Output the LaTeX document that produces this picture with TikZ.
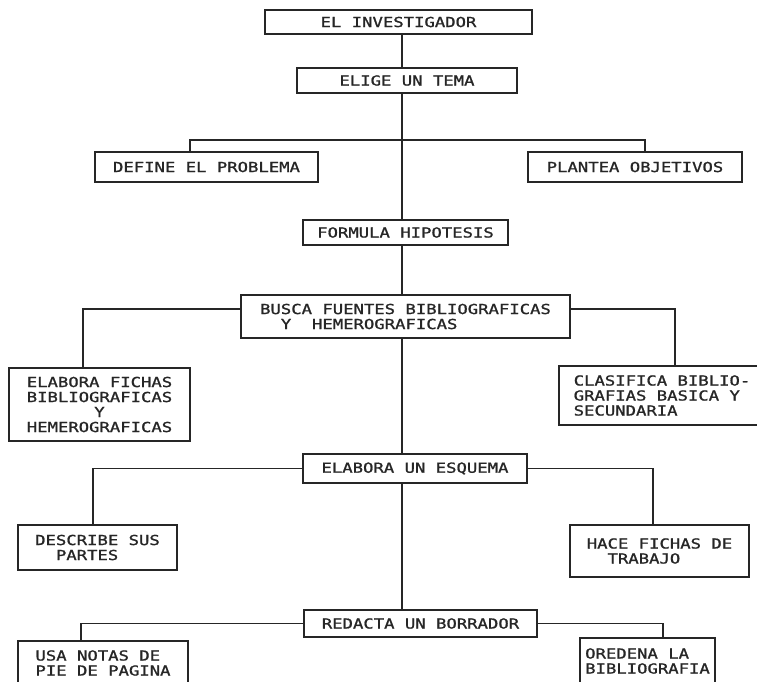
\documentclass[tikz,border=0pt]{standalone}
\usepackage{fontspec}
\setmonofont[FakeStretch=1.25,FakeBold=1.2]{DejaVu Sans Mono}
\begin{document}
\begin{tikzpicture}[x=1pt,y=-1pt,
  box/.style={draw=black!85, line width=1.4pt, inner sep=0pt, text=black!85,
    font=\ttfamily\fontsize{13.8}{15}\selectfont},
  conn/.style={draw=black!85, line width=1.4pt}]
\useasboundingbox (0,0) rectangle (757,681);
\clip (0,0) rectangle (757,681);
\fill[white] (0,0) rectangle (757,681);
% nodes
\node[box, minimum width=267pt, minimum height=24pt] (inv) at (398.5,22) {EL INVESTIGADOR};
\node[box, minimum width=220pt, minimum height=25pt] (tema) at (407,80.5) {ELIGE UN TEMA};
\node[box, minimum width=223pt, minimum height=30pt] (define) at (206.5,167) {DEFINE EL PROBLEMA};
\node[box, minimum width=214pt, minimum height=30pt] (plantea) at (635,167) {PLANTEA OBJETIVOS};
\node[box, minimum width=205pt, minimum height=25pt] (formula) at (405.5,232.5) {FORMULA HIPOTESIS};
\node[box, minimum width=329pt, minimum height=43pt, align=left] (busca) at (405.5,316.5)
  {BUSCA FUENTES BIBLIOGRAFICAS\\~~Y~~HEMEROGRAFICAS};
\node[box, minimum width=181pt, minimum height=73pt, align=center] (fichas) at (99.5,404.5)
  {ELABORA FICHAS\\BIBLIOGRAFICAS\\Y\\HEMEROGRAFICAS};
\node[box, minimum width=206pt, minimum height=59pt, align=left] (clasifica) at (662,395.5)
  {CLASIFICA BIBLIO-\\GRAFIAS BASICA Y\\SECUNDARIA};
\node[box, minimum width=224pt, minimum height=29pt] (esquema) at (415,468.5) {ELABORA UN ESQUEMA};
\node[box, minimum width=159pt, minimum height=45pt, align=left] (describe) at (97.5,547.5)
  {DESCRIBE SUS\\~~PARTES};
\node[box, minimum width=179pt, minimum height=52pt, align=left] (hace) at (659.5,551)
  {HACE FICHAS DE\\~~TRABAJO};
\node[box, minimum width=233pt, minimum height=27pt] (redacta) at (420.5,623.5) {REDACTA UN BORRADOR};
\node[box, minimum width=170pt, minimum height=44pt, align=left] (usa) at (103,663)
  {USA NOTAS DE\\PIE DE PAGINA};
\node[box, minimum width=135pt, minimum height=46pt, align=left] (oredena) at (647.5,661)
  {OREDENA LA\\BIBLIOGRAFIA};
% trunk
\coordinate (T) at (402,0);
\coordinate (j1) at (402,140);
\draw[conn] (inv.south -| T) -- (tema.north -| T);
\draw[conn] (tema.south -| T) -- (formula.north -| T);
\draw[conn] (formula.south -| T) -- (busca.north -| T);
\draw[conn] (busca.south -| T) -- (esquema.north -| T);
\draw[conn] (esquema.south -| T) -- (redacta.north -| T);
% branches
\draw[conn] ([xshift=-16.5pt]define.north) |- (j1) -| ([xshift=10pt]plantea.north);
\draw[conn] ([yshift=7.5pt]busca.west) -| ([xshift=-16.5pt]fichas.north);
\draw[conn] ([yshift=7.5pt]busca.east) -| ([xshift=13pt]clasifica.north);
\draw[conn] (esquema.west) -| ([xshift=-4.5pt]describe.north);
\draw[conn] (esquema.east) -| ([xshift=-6.5pt]hace.north);
\draw[conn] (redacta.west) -| ([xshift=-22pt]usa.north);
\draw[conn] (redacta.east) -| ([xshift=15.5pt]oredena.north);
\end{tikzpicture}
\end{document}
